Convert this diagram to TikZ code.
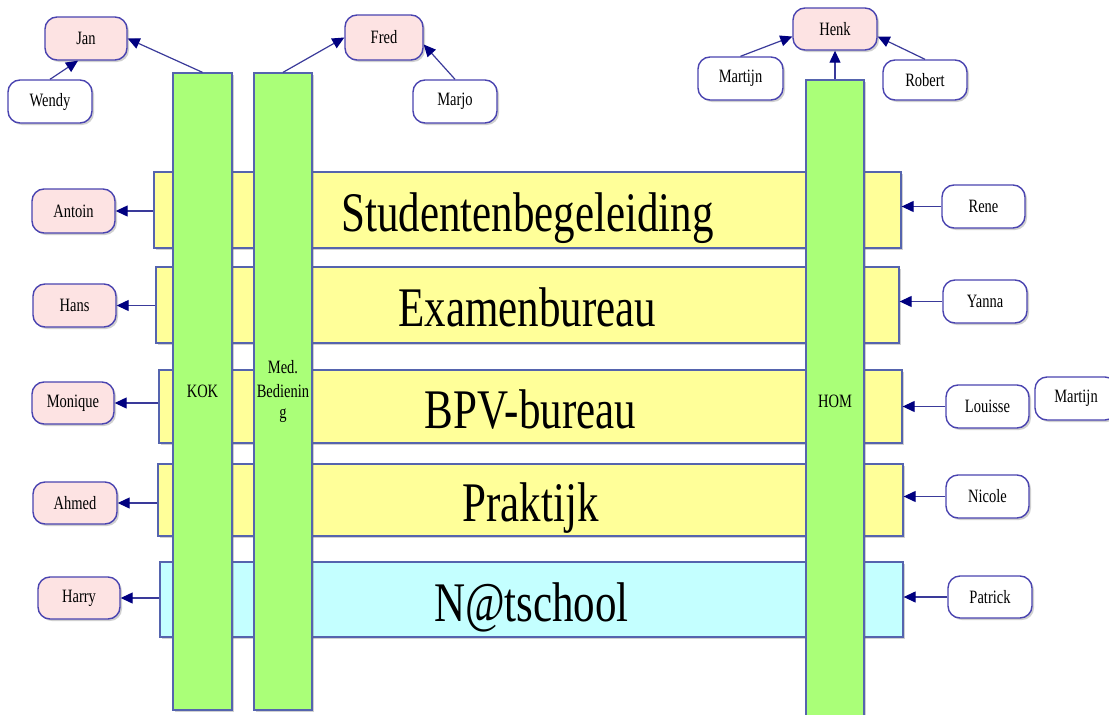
\documentclass[tikz,border=0pt]{standalone}
\usepackage{fontspec}
\usepackage{graphicx}
\setmainfont{Liberation Serif}
\usetikzlibrary{arrows.meta,shadows,calc}
\definecolor{namefill}{HTML}{FDE3E3}
\definecolor{nameedge}{HTML}{4A44B0}
\definecolor{baredge}{HTML}{5564AE}
\definecolor{yel}{HTML}{FFFF99}
\definecolor{grn}{HTML}{AAFF78}
\definecolor{cyn}{HTML}{C4FFFF}
\definecolor{navy}{HTML}{000080}
\definecolor{arrline}{HTML}{3A3A9A}
\newcommand{\bigtxt}[1]{\scalebox{1}[1.3]{\fontsize{43}{48}\selectfont #1}}
\newcommand{\nm}[1]{\scalebox{1}[1.3]{\fontsize{14.5}{17}\selectfont #1}}
\tikzset{
  shad/.style={drop shadow={shadow xshift=2pt,shadow yshift=-2pt,opacity=.3,fill=black!60}},
  person/.style={draw=nameedge,line width=1.4pt,rounded corners=12pt,shad,inner sep=0pt,
    minimum width=83pt,minimum height=43pt},
  lead/.style={person,fill=namefill},
  member/.style={person,fill=white},
  dept/.style={draw=baredge,line width=1.3pt,shad,inner sep=0pt,text height=50pt,text depth=7pt},
  team/.style={draw=baredge,line width=1.3pt,fill=grn,shad,inner sep=0pt,align=center},
  link/.style={draw=arrline,line width=1.2pt,-{Triangle[length=12pt,width=11pt,fill=navy,color=navy]}}
}
\begin{document}
\begin{tikzpicture}[x=1pt,y=-1pt]
\useasboundingbox (0,0) rectangle (1109,715);
\fill[white] (0,0) rectangle (1109,715);

% department bars
\node[dept,fill=yel,minimum width=747pt,minimum height=76pt] (stud) at (527.5,210) {\bigtxt{Studentenbegeleiding}};
\node[dept,fill=yel,minimum width=743pt,minimum height=76pt] (exam) at (527.5,305) {\bigtxt{Examenbureau}};
\node[dept,fill=yel,minimum width=743pt,minimum height=73pt] (bpv) at (530.5,406.5) {\bigtxt{BPV-bureau}};
\node[dept,fill=yel,minimum width=745pt,minimum height=72pt] (prak) at (530.5,500) {\bigtxt{Praktijk}};
\node[dept,fill=cyn,minimum width=743pt,minimum height=75pt] (nats) at (531.5,599.5) {\bigtxt{N@tschool}};

% vertical team bars
\node[team,minimum width=59pt,minimum height=637pt] (kok) at (202.5,391.5) {\nm{KOK}};
\node[team,minimum width=58pt,minimum height=637pt] (med) at (283,391.5) {\nm{Med.}\\[9pt]\nm{Bedienin}\\[9pt]\nm{g}};
\node[team,minimum width=58pt,minimum height=642pt] (hom) at (835,401) {\nm{HOM}};

% people
\node[lead,minimum width=82pt] (jan) at (86,38.5) {\nm{Jan}};
\node[member,minimum width=84pt] (wendy) at (50,101.5) {\nm{Wendy}};
\node[lead,minimum width=78pt,minimum height=45pt] (fred) at (384,37.5) {\nm{Fred}};
\node[member,minimum width=84pt] (marjo) at (455,101.5) {\nm{Marjo}};
\node[lead,minimum width=84pt,minimum height=42pt] (henk) at (835,29) {\nm{Henk}};
\node[member,minimum width=85pt] (martijnA) at (740.5,78.5) {\nm{Martijn}};
\node[member,minimum width=84pt,minimum height=40pt] (robert) at (925,80) {\nm{Robert}};

\node[lead,minimum height=44pt] (antoin) at (73.5,211) {\nm{Antoin}};
\node[lead] (hans) at (74.5,305.5) {\nm{Hans}};
\node[lead,minimum width=82pt,minimum height=42pt] (monique) at (73,403) {\nm{Monique}};
\node[lead,minimum width=84pt,minimum height=42pt] (ahmed) at (75,503) {\nm{Ahmed}};
\node[lead,minimum width=82pt,minimum height=42pt] (harry) at (79,598) {\nm{Harry}};

\node[member] (rene) at (983.5,206.5) {\nm{Rene}};
\node[member,minimum width=84pt] (yanna) at (985,301.5) {\nm{Yanna}};
\node[member] (louisse) at (987.5,406.5) {\nm{Louisse}};
\node[member,minimum width=82pt] (martijnB) at (1076,398.5) {\nm{Martijn}};
\node[member] (nicole) at (987.5,496.5) {\nm{Nicole}};
\node[member,minimum width=84pt,minimum height=42pt] (patrick) at (990,597) {\nm{Patrick}};

% connectors
\draw[link] (wendy.north) -- ($(jan.south)+(-8,0)$);
\draw[link] (kok.north) -- (jan.east);
\draw[link] (med.north) -- (fred.west);
\draw[link] (marjo.north) -- (fred.-10);
\draw[link] (martijnA.north) -- (henk.190);
\draw[link] (robert.north) -- (henk.-10);
\draw[link] (hom.north) -- (henk.south);

\draw[link] (stud.west |- antoin.east) -- (antoin.east);
\draw[link] (exam.west |- hans.east) -- (hans.east);
\draw[link] (bpv.west |- monique.east) -- (monique.east);
\draw[link] (prak.west |- ahmed.east) -- (ahmed.east);
\draw[link] (nats.west |- harry.east) -- (harry.east);

\draw[link] (rene.west) -- (stud.east |- rene.west);
\draw[link] (yanna.west) -- (exam.east |- yanna.west);
\draw[link] (louisse.west) -- (bpv.east |- louisse.west);
\draw[link] (nicole.west) -- (prak.east |- nicole.west);
\draw[link] (patrick.west) -- (nats.east |- patrick.west);
\end{tikzpicture}
\end{document}
